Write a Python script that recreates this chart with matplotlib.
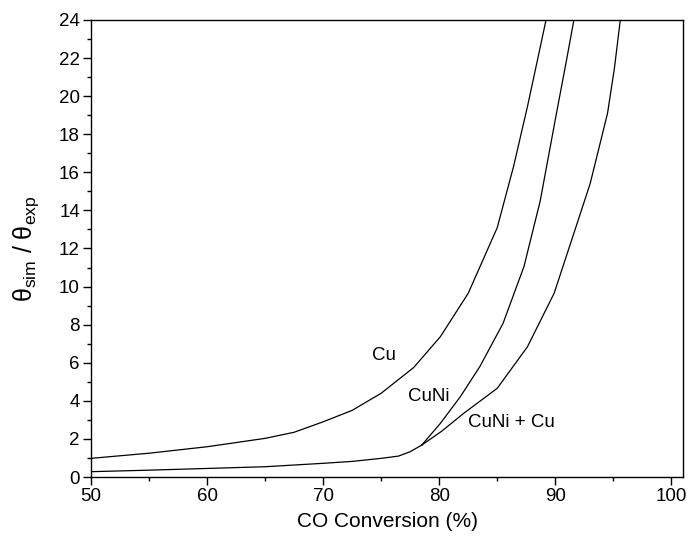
import matplotlib
matplotlib.use("Agg")
import matplotlib.pyplot as plt
from matplotlib.ticker import MultipleLocator

plt.rcParams['font.family'] = ['Liberation Sans', 'DejaVu Sans']
plt.rcParams['mathtext.fontset'] = 'custom'
plt.rcParams['mathtext.rm'] = 'Liberation Sans'
plt.rcParams['mathtext.it'] = 'Liberation Sans'

# Data
cu_x = [50.0, 55.0, 60.0, 65.0, 67.5, 70.0, 72.5, 75.0, 77.8, 80.1, 82.5, 85.0, 86.4, 87.6, 88.5, 89.2]
cu_y = [0.98, 1.25, 1.59, 2.03, 2.35, 2.9, 3.5, 4.4, 5.75, 7.37, 9.65, 13.1, 16.3, 19.45, 22.0, 24.0]

base_x = [50.0, 55.0, 60.0, 65.0, 70.0, 72.5, 75.0, 76.5, 77.5, 78.5]
base_y = [0.28, 0.36, 0.45, 0.54, 0.72, 0.82, 0.98, 1.1, 1.33, 1.68]

cuni_x = [78.5, 80.1, 81.8, 83.5, 85.5, 87.3, 88.7, 90.1, 91.0, 91.6]
cuni_y = [1.68, 2.82, 4.2, 5.8, 8.07, 11.05, 14.5, 19.1, 22.0, 24.0]

cunicu_x = [78.5, 80.2, 82.1, 85.0, 87.6, 89.9, 91.6, 93.0, 94.5, 95.1, 95.6]
cunicu_y = [1.68, 2.4, 3.34, 4.66, 6.84, 9.65, 12.8, 15.4, 19.1, 21.5, 24.0]

labels = ["Cu", "CuNi", "CuNi + Cu"]
label_pos = [(75.26, 6.36), (79.14, 4.25), (86.2, 2.84)]

fig = plt.figure(figsize=(6.88, 5.37), dpi=100)
ax = fig.add_axes([0.1323, 0.1117, 0.8604, 0.8511])

lw = 0.9
ax.plot(cu_x, cu_y, color='black', lw=lw)
ax.plot(base_x, base_y, color='black', lw=lw)
ax.plot(cuni_x, cuni_y, color='black', lw=lw)
ax.plot(cunicu_x, cunicu_y, color='black', lw=lw)

for t, (px, py) in zip(labels, label_pos):
    ax.text(px, py, t, fontsize=13.5, ha='center', va='center')

ax.set_xlim(50, 101)
ax.set_ylim(0, 24)
ax.xaxis.set_major_locator(MultipleLocator(10))
ax.xaxis.set_minor_locator(MultipleLocator(5))
ax.yaxis.set_major_locator(MultipleLocator(2))
ax.yaxis.set_minor_locator(MultipleLocator(1))
ax.tick_params(which='major', direction='out', length=6, width=1, labelsize=13.5,
               top=False, right=False, pad=2)
ax.tick_params(which='minor', direction='out', length=3, width=1, top=False, right=False)
for s in ax.spines.values():
    s.set_linewidth(1)

ax.set_xlabel('CO Conversion (%)', fontsize=15, labelpad=5)
ax.set_ylabel(r'$\mathregular{\theta_{sim}\ /\ \theta_{exp}}$', fontsize=18, labelpad=13)

fig.savefig('out.png', dpi=100)
